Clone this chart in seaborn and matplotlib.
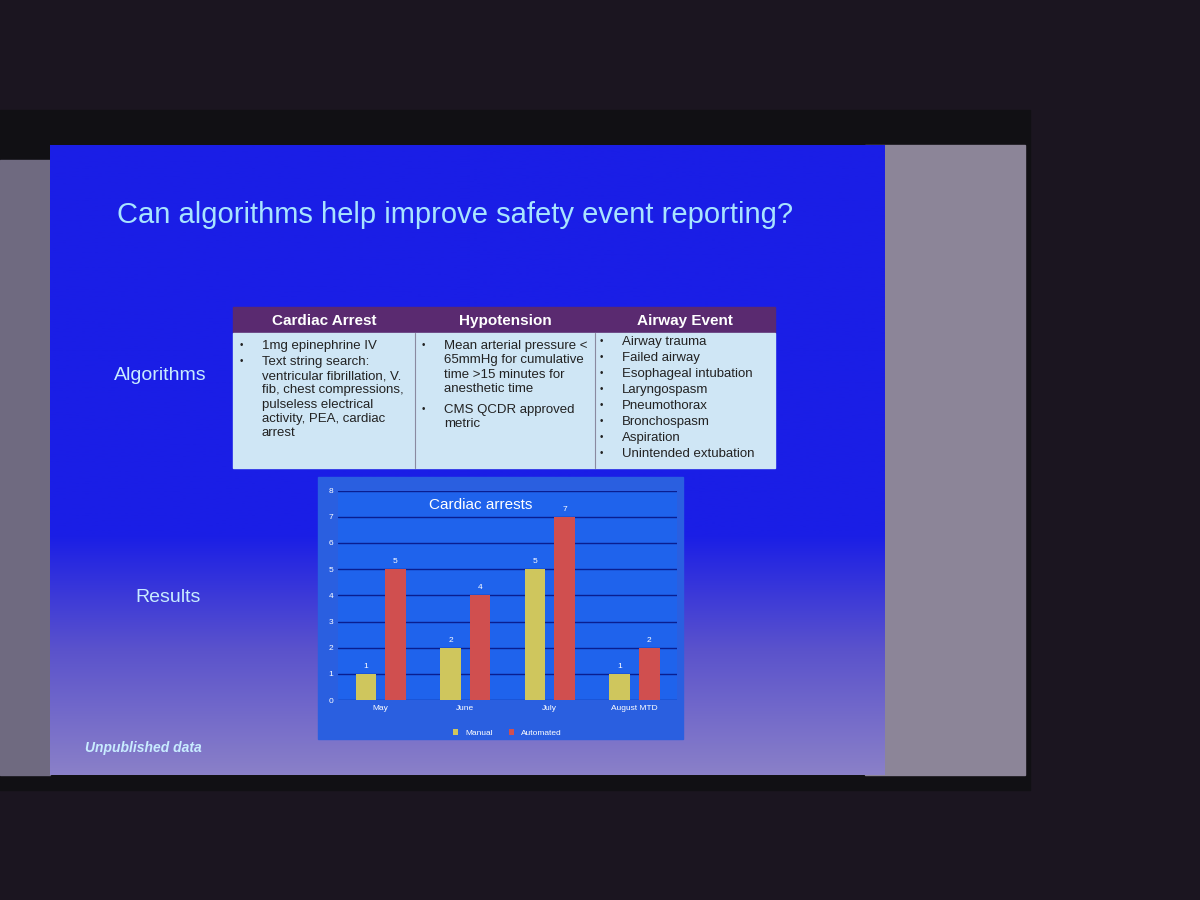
import matplotlib
matplotlib.use("Agg")
import matplotlib.pyplot as plt
import seaborn as sns
import pandas as pd
import numpy as np
from matplotlib.patches import Rectangle
from matplotlib.colors import LinearSegmentedColormap

months = ["May", "June", "July", "August MTD"]
manual = [1, 2, 5, 1]
automated = [5, 4, 7, 2]
series = ["Manual", "Automated"]
yticks = [0, 1, 2, 3, 4, 5, 6, 7, 8]

headers = ["Cardiac Arrest", "Hypotension", "Airway Event"]
col1 = ["1mg epinephrine IV", "Text string search:\nventricular fibrillation, V.\nfib, chest compressions,\npulseless electrical\nactivity, PEA, cardiac\narrest"]
col2 = ["Mean arterial pressure <\n65mmHg for cumulative\ntime >15 minutes for\nanesthetic time", "CMS QCDR approved\nmetric"]
col3 = ["Airway trauma", "Failed airway", "Esophageal intubation", "Laryngospasm",
        "Pneumothorax", "Bronchospasm", "Aspiration", "Unintended extubation"]

df = pd.DataFrame({"Month": months * 2,
                   "Count": manual + automated,
                   "Series": [series[0]] * 4 + [series[1]] * 4})

sns.set_theme(style="white")
plt.rcParams['font.family'] = ['Liberation Sans', 'DejaVu Sans']

fig = plt.figure(figsize=(12, 9), dpi=100, facecolor="#1b1520")
bg = fig.add_axes([0, 0, 1, 1])
bg.set_xlim(0, 1200); bg.set_ylim(900, 0); bg.axis("off")
bg.add_patch(Rectangle((0, 110), 1030, 680, color="#111014"))
bg.add_patch(Rectangle((0, 160), 50, 615, color="#6f6a80"))
bg.add_patch(Rectangle((865, 145), 160, 630, color="#8c8598"))
cmap = LinearSegmentedColormap.from_list("slide", [(0, "#1a1ee6"), (0.62, "#1a1ee6"),
                                                   (0.8, "#5a52cc"), (1, "#8a80c8")])
bg.imshow(np.linspace(0, 1, 256).reshape(-1, 1), cmap=cmap, aspect="auto",
          extent=(50, 885, 775, 145), zorder=1)
bg.set_xlim(0, 1200); bg.set_ylim(900, 0)
bg.text(455, 215, "Can algorithms help improve safety event reporting?", color="#a8e4ff",
        fontsize=21, ha="center", va="center", zorder=3)
bg.text(160, 375, "Algorithms", color="#c8ecff", fontsize=14, ha="center", va="center", zorder=3)
bg.text(168, 597, "Results", color="#c8ecff", fontsize=14, ha="center", va="center", zorder=3)
bg.text(85, 748, "Unpublished data", color="#c8ecff", fontsize=10, style="italic",
        fontweight="bold", va="center", zorder=3)

# table
xs = [233, 415, 595, 775]
bg.add_patch(Rectangle((233, 307), 542, 26, color="#5a2a70", zorder=2))
bg.add_patch(Rectangle((233, 333), 542, 135, color="#cfe6f5", zorder=2))
for x in xs[1:-1]:
    bg.plot([x, x], [333, 468], color="#8a8aa0", lw=0.8, zorder=3)
for i, h in enumerate(headers):
    bg.text((xs[i] + xs[i + 1]) / 2, 321, h, color="white", fontsize=11,
            fontweight="bold", ha="center", va="center", zorder=3)
def bullets(x, y, items, step):
    for it in items:
        bg.text(x, y, "•", fontsize=7, color="#222", va="top", zorder=3)
        bg.text(x + 22, y, it, fontsize=9.5, color="#222", va="top", linespacing=1.25, zorder=3)
        y += step * (it.count("\n") + 1)
bullets(240, 340, col1, 16)
bullets(422, 340, col2, 16)
bullets(600, 336, col3, 16)

# chart
bg.add_patch(Rectangle((318, 477), 365, 262, color="#2a5fe0", zorder=2))
ax = fig.add_axes([0.282, 0.222, 0.282, 0.233])
ax.set_facecolor("#1f63ec")
sns.barplot(data=df, x="Month", y="Count", hue="Series", hue_order=series,
            palette=["#e2d64a", "#e53a3a"], ax=ax, width=0.7, gap=0.3,
            edgecolor="none", zorder=3)
for c in ax.containers:
    ax.bar_label(c, color="white", fontsize=6, padding=3)
ax.set_ylim(0, 8)
ax.set_yticks(yticks)
ax.grid(axis="y", color="#0a1e90", lw=1)
ax.set_axisbelow(True)
ax.tick_params(colors="white", labelsize=6, length=0)
ax.set_xlabel(""); ax.set_ylabel("")
for s in ax.spines.values():
    s.set_visible(False)
ax.text(0.42, 0.93, "Cardiac arrests", color="white", fontsize=11, ha="center",
        va="center", transform=ax.transAxes)
ax.legend(loc="upper center", bbox_to_anchor=(0.5, -0.1), ncol=2, frameon=False,
          fontsize=6, labelcolor="white", handlelength=0.6)

fig.savefig("out.png", dpi=100, facecolor=fig.get_facecolor())
